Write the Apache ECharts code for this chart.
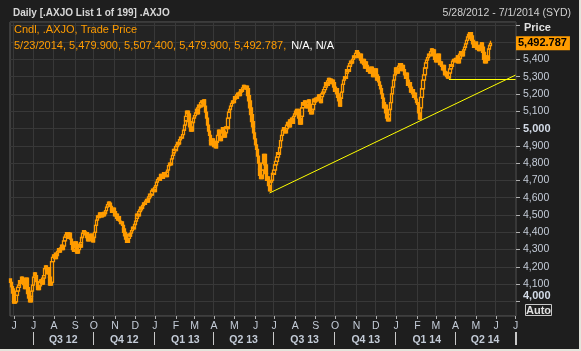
<!DOCTYPE html>
<html>
<head>
<meta charset="utf-8">
<script src="https://cdn.jsdelivr.net/npm/echarts@6/dist/echarts.min.js"></script>
<style>
html, body { margin: 0; padding: 0; background: #1e1e1e; }
#chart { width: 581px; height: 351px; position: relative; }
#edgeR { position: absolute; left: 579px; top: 0; width: 2px; height: 351px; background: #e4e4dc; }
#edgeB { position: absolute; left: 0; top: 349px; width: 581px; height: 2px; background: #e4e4dc; }
</style>
</head>
<body>
<div id="chart"></div>
<div id="edgeR"></div>
<div id="edgeB"></div>
<script>
// daily closes of .AXJO, one per weekday starting 2012-05-28
const firstOpen = 4130;
const closes = [
    4110, 4085, 4072, 4048, 3990, 3998, 4035, 4060, 4082, 4095,
    4120, 4105, 4140, 4128, 4098, 4075, 4110, 4135, 4080, 4045,
    4020, 3998, 4030, 4060, 4095, 4140, 4165, 4150, 4115, 4085,
    4068, 4090, 4110, 4125, 4100, 4135, 4150, 4190, 4205, 4178,
    4160, 4195, 4140, 4095, 4110, 4230, 4255, 4270, 4248, 4280,
    4265, 4290, 4305, 4285, 4310, 4325, 4300, 4320, 4350, 4372,
    4385, 4398, 4365, 4380, 4395, 4360, 4330, 4300, 4290, 4320,
    4345, 4310, 4280, 4300, 4330, 4315, 4340, 4370, 4395, 4410,
    4402, 4385, 4398, 4370, 4350, 4378, 4365, 4390, 4360, 4345,
    4370, 4400, 4440, 4470, 4495, 4485, 4500, 4512, 4490, 4505,
    4495, 4515, 4508, 4525, 4545, 4560, 4575, 4568, 4550, 4530,
    4515, 4540, 4520, 4495, 4505, 4480, 4470, 4490, 4465, 4450,
    4460, 4440, 4420, 4400, 4380, 4360, 4342, 4365, 4390, 4378,
    4395, 4410, 4430, 4420, 4445, 4465, 4480, 4505, 4495, 4520,
    4530, 4545, 4538, 4555, 4570, 4562, 4580, 4590, 4575, 4595,
    4605, 4620, 4615, 4640, 4650, 4635, 4660, 4670, 4690, 4705,
    4715, 4700, 4720, 4735, 4712, 4728, 4745, 4730, 4722, 4748,
    4760, 4785, 4800, 4790, 4825, 4845, 4860, 4880, 4872, 4895,
    4905, 4920, 4912, 4935, 4950, 4945, 4965, 4990, 5020, 5045,
    5070, 5100, 5085, 5040, 5010, 4985, 5000, 5035, 5060, 5075,
    5090, 5110, 5085, 5120, 5135, 5125, 5150, 5160, 5142, 5165,
    5130, 5095, 5060, 5020, 4985, 4960, 4930, 4905, 4940, 4915,
    4895, 4925, 4888, 4920, 4960, 4990, 4955, 4930, 4975, 5005,
    4985, 4950, 4975, 5010, 5000, 5060, 5095, 5110, 5130, 5145,
    5160, 5150, 5170, 5185, 5175, 5195, 5205, 5190, 5210, 5225,
    5215, 5235, 5250, 5240, 5228, 5245, 5230, 5190, 5160, 5120,
    5080, 5040, 5010, 4975, 4940, 4905, 4880, 4840, 4800, 4765,
    4730, 4710, 4760, 4800, 4850, 4790, 4740, 4700, 4720, 4670,
    4640, 4690, 4700, 4740, 4735, 4760, 4790, 4810, 4835, 4860,
    4850, 4890, 4930, 4960, 4990, 5005, 4990, 4975, 5000, 5020,
    5035, 5010, 5050, 5040, 5060, 5030, 5070, 5085, 5100, 5080,
    5110, 5095, 5060, 5025, 5070, 5120, 5150, 5135, 5160, 5140,
    5120, 5150, 5165, 5130, 5100, 5085, 5110, 5140, 5170, 5155,
    5175, 5160, 5180, 5195, 5170, 5150, 5185, 5200, 5210, 5225,
    5240, 5265, 5250, 5275, 5290, 5270, 5285, 5260, 5280, 5265,
    5240, 5215, 5230, 5200, 5180, 5160, 5130, 5175, 5210, 5255,
    5280, 5300, 5290, 5320, 5340, 5330, 5360, 5375, 5390, 5380,
    5400, 5420, 5410, 5435, 5450, 5440, 5425, 5410, 5430, 5395,
    5380, 5400, 5370, 5350, 5385, 5365, 5330, 5345, 5320, 5340,
    5355, 5330, 5300, 5320, 5345, 5310, 5280, 5300, 5270, 5250,
    5230, 5200, 5175, 5150, 5120, 5135, 5090, 5060, 5045, 5080,
    5110, 5150, 5200, 5240, 5280, 5310, 5330, 5350, 5320, 5345,
    5360, 5375, 5350, 5335, 5365, 5340, 5310, 5290, 5320, 5280,
    5250, 5265, 5240, 5210, 5225, 5200, 5180, 5205, 5170, 5150,
    5140, 5090, 5055, 5120, 5180, 5230, 5280, 5310, 5350, 5380,
    5395, 5410, 5430, 5420, 5445, 5460, 5440, 5455, 5420, 5400,
    5385, 5410, 5430, 5395, 5370, 5385, 5360, 5340, 5365, 5330,
    5310, 5325, 5300, 5292, 5320, 5345, 5370, 5360, 5390, 5400,
    5385, 5405, 5395, 5420, 5380, 5405, 5430, 5445, 5420, 5440,
    5455, 5470, 5490, 5510, 5530, 5545, 5520, 5555, 5535, 5510,
    5490, 5470, 5480, 5500, 5460, 5475, 5450, 5480, 5465, 5495,
    5470, 5440, 5400, 5380, 5420, 5395, 5410, 5460, 5480, 5492.787
];
// last bar 5/23/2014: open, high, low, close
const lastBar = [5479.9, 5507.4, 5479.9, 5492.787];
const lastDate = '5/23/2014';

// drawn lines
const trendFrom = ['2013-06-24', 4627];
const trendTo = ['2014-07-01', 5309];
const floorFrom = ['2014-03-21', 5286];
const floorTo = ['2014-07-01', 5286];

const monthLetters = ['J', 'F', 'M', 'A', 'M', 'J', 'J', 'A', 'S', 'O', 'N', 'D'];

// weekdays 5/28/2012 - 7/1/2014
const days = [];
for (let t = Date.UTC(2012, 4, 28); t <= Date.UTC(2014, 6, 1); t += 86400000) {
    const wd = new Date(t).getUTCDay();
    if (wd !== 0 && wd !== 6) days.push(new Date(t).toISOString().slice(0, 10));
}

const monthOf = (s) => +String(s).slice(5, 7);
const dayOf = (s) => +String(s).slice(8, 10);
const monthStart = (i) => i > 0 && i < days.length && monthOf(days[i]) !== monthOf(days[i - 1]);
const quarterStart = (i) => monthStart(i) && (monthOf(days[i]) - 1) % 3 === 0;
const quarterMid = (i) => {
    if (i <= 0 || i >= days.length) return false;
    const m = monthOf(days[i]);
    return m % 3 === 2 && dayOf(days[i]) >= 15 && (dayOf(days[i - 1]) < 15 || monthOf(days[i - 1]) !== m);
};

const candles = closes.map(function (c, i) {
    if (i === closes.length - 1) return [lastBar[0], lastBar[3], lastBar[2], lastBar[1]];
    const o = i === 0 ? firstOpen : closes[i - 1];
    return [o, c, Math.min(o, c), Math.max(o, c)];
});

const fmt = (v, d) => v.toLocaleString('en-US', { minimumFractionDigits: d, maximumFractionDigits: d });
const font = 'Liberation Sans';
const orange = '#ff9c00';
const yellow = '#ffff00';

const myChart = echarts.init(document.getElementById('chart'));
const option = {
    backgroundColor: '#1e1e1e',
    animation: false,
    textStyle: { fontFamily: font },
    title: [
        {
            text: 'Daily [.AXJO List 1 of 199] .AXJO',
            left: 8,
            top: 3,
            textStyle: { color: '#d8d8d8', fontSize: 10, fontWeight: 'bold', fontFamily: font },
        },
        {
            text: '5/28/2012 - 7/1/2014 (SYD)',
            right: 5,
            top: 3,
            textStyle: { color: '#d0d0d0', fontSize: 10.5, fontWeight: 'normal', fontFamily: font },
        },
        {
            text: '{o|Cndl, .AXJO, Trade Price}\n{o|' + [lastDate, fmt(lastBar[0], 3), fmt(lastBar[1], 3), fmt(lastBar[2], 3), fmt(lastBar[3], 3)].join(', ') + ',} {w|N/A, N/A}',
            left: 9,
            top: 17,
            textStyle: {
                fontWeight: 'normal',
                rich: {
                    o: { color: orange, fontSize: 11, fontWeight: 'normal', lineHeight: 15, fontFamily: font },
                    w: { color: '#ffffff', fontSize: 11, fontWeight: 'normal', lineHeight: 15, fontFamily: font },
                },
            },
        },
        {
            text: 'Price',
            left: 519,
            top: 17,
            textStyle: { color: '#e0e0e0', fontSize: 11, fontWeight: 'bold', fontFamily: font },
        },
        {
            text: 'Auto',
            left: 525,
            top: 304,
            padding: [1, 1, 0, 1],
            borderColor: '#c8c8c8',
            borderWidth: 1,
            textStyle: { color: '#e0e0e0', fontSize: 11, fontWeight: 'bold', fontFamily: font },
        },
    ],
    grid: {
        left: 10,
        right: 65,
        top: 22,
        bottom: 35,
        show: true,
        backgroundColor: '#232323',
        borderColor: '#5a5a5a',
        borderWidth: 1,
    },
    xAxis: [
        {
            type: 'category',
            data: days,
            boundaryGap: true,
            axisLine: { show: false },
            axisTick: {
                show: true,
                alignWithLabel: true,
                interval: (i) => monthStart(i),
                length: 3,
                lineStyle: { color: '#b0b0b0' },
            },
            axisLabel: {
                interval: (i) => monthStart(i),
                formatter: (v) => monthLetters[monthOf(v) - 1] || '',
                color: '#c4ccd8',
                fontSize: 10.5,
                margin: 5,
            },
            splitLine: {
                show: true,
                interval: (i) => monthStart(i),
                lineStyle: { color: '#383838', width: 1 },
            },
        },
        {
            type: 'category',
            data: days,
            boundaryGap: true,
            position: 'bottom',
            offset: 16,
            axisLine: { show: false },
            axisTick: {
                show: true,
                interval: (i) => quarterStart(i),
                length: 13,
                lineStyle: { color: '#c8c8c8' },
            },
            axisLabel: {
                interval: (i) => quarterMid(i),
                formatter: (v) => 'Q' + (Math.floor((monthOf(v) - 1) / 3) + 1) + ' ' + String(v).slice(2, 4),
                color: '#c4ccd8',
                fontSize: 10.5,
                fontWeight: 'bold',
                margin: 3,
            },
            splitLine: { show: false },
        },
    ],
    yAxis: {
        type: 'value',
        position: 'right',
        min: 3916,
        max: 5616,
        splitNumber: 17,
        scale: true,
        axisLine: { show: false },
        axisTick: { show: true, length: 4, lineStyle: { color: '#b0b0b0' } },
        axisLabel: {
            showMinLabel: false,
            showMaxLabel: false,
            margin: 7,
            color: '#c4ccd8',
            fontSize: 10.5,
            formatter: function (v) {
                if (v >= 5500) return '';
                if (v === 4000) return '{b4|' + fmt(v, 0) + '}';
                if (v === 5000) return '{b|' + fmt(v, 0) + '}';
                return fmt(v, 0);
            },
            rich: {
                b: { fontWeight: 'bold', fontSize: 11, color: '#d4dce8', fontFamily: font },
                b4: { fontWeight: 'bold', fontSize: 11, color: '#d4dce8', fontFamily: font, padding: [0, 0, 12, 0] },
            },
        },
        splitLine: { show: true, lineStyle: { color: '#383838', width: 1 } },
    },
    series: [
        {
            name: '.AXJO',
            type: 'candlestick',
            xAxisIndex: 0,
            data: candles,
            barWidth: 3,
            itemStyle: {
                color: 'transparent',
                color0: orange,
                borderColor: orange,
                borderColor0: orange,
                borderWidth: 1.3,
            },
            markLine: {
                silent: true,
                symbol: 'none',
                animation: false,
                label: { show: false },
                lineStyle: { color: yellow, width: 1, type: 'solid', opacity: 1 },
                data: [
                    [{ coord: trendFrom, lineStyle: { color: yellow } }, { coord: trendTo }],
                    [{ coord: floorFrom, lineStyle: { color: yellow } }, { coord: floorTo }],
                    {
                        yAxis: lastBar[3],
                        lineStyle: { color: 'rgba(0,0,0,0)', width: 0 },
                        label: {
                            show: true,
                            position: 'end',
                            distance: 0,
                            formatter: () => fmt(lastBar[3], 3),
                            backgroundColor: orange,
                            color: '#000',
                            fontWeight: 'bold',
                            fontSize: 11,
                            fontFamily: font,
                            padding: [2, 3, 1, 2],
                        },
                    },
                ],
            },
        },
    ],
};
myChart.setOption(option);
window.addEventListener('resize', myChart.resize);
</script>
</body>
</html>
